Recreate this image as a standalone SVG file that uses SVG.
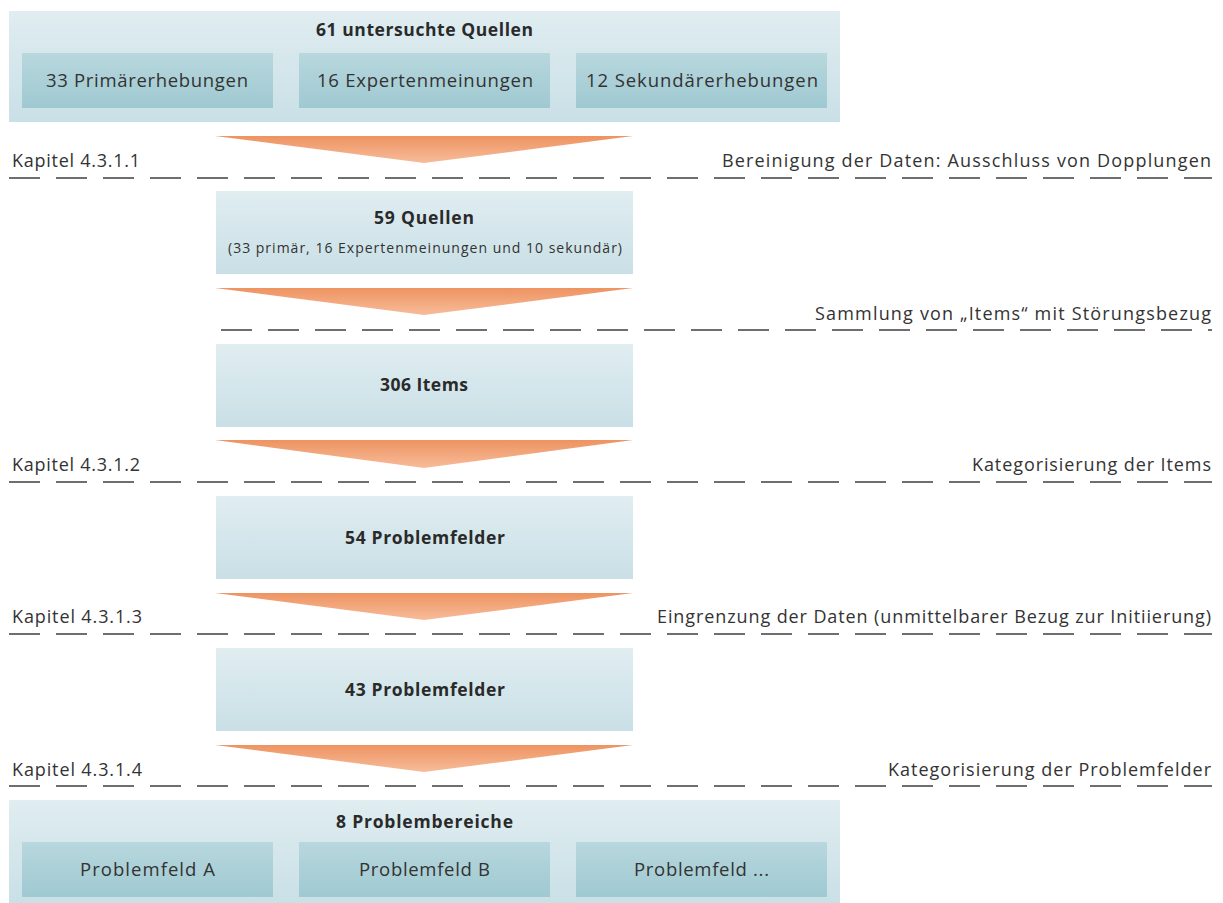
<svg xmlns="http://www.w3.org/2000/svg" width="1223" height="903" viewBox="0 0 1223 903">
  <defs>
    <linearGradient id="gLight" x1="0" y1="0" x2="0" y2="1">
      <stop offset="0" stop-color="#e0edf1"/>
      <stop offset="1" stop-color="#c9e0e6"/>
    </linearGradient>
    <linearGradient id="gSub" x1="0" y1="0" x2="0" y2="1">
      <stop offset="0" stop-color="#b8d7de"/>
      <stop offset="1" stop-color="#9fc9d1"/>
    </linearGradient>
    <linearGradient id="gArrow" x1="0" y1="0" x2="0" y2="1">
      <stop offset="0" stop-color="#ee9361"/>
      <stop offset="1" stop-color="#f7bc9a"/>
    </linearGradient>
  </defs>
  <style>
    text { font-family: "Open Sans", "Liberation Sans", sans-serif; fill: #2a2a2a; }
    .title { font-size: 17.5px; font-weight: bold; text-anchor: middle; }
    .sub { font-size: 18.5px; text-anchor: middle; fill: #333; }
    .small { font-size: 14px; text-anchor: middle; fill: #333; }
    .lbl { font-size: 18px; fill: #333; }
    .right { text-anchor: end; }
    .big { fill: url(#gLight); }
    .inner { fill: url(#gSub); }
    .arrow { fill: url(#gArrow); }
    .dash { stroke: #6e6e6e; stroke-width: 2; stroke-dasharray: 31 16; fill: none; }
  </style>

  <!-- source node -->
  <g id="n-sources">
    <rect class="big" x="9" y="11" width="831" height="111"/>
    <text class="title" x="424.5" y="36" textLength="217" lengthAdjust="spacing">61 untersuchte Quellen</text>
    <rect class="inner" x="22" y="53" width="251" height="55"/>
    <text class="sub" x="147" y="87" textLength="202" lengthAdjust="spacing">33 Primärerhebungen</text>
    <rect class="inner" x="299" y="53" width="251" height="55"/>
    <text class="sub" x="425" y="87" textLength="216" lengthAdjust="spacing">16 Expertenmeinungen</text>
    <rect class="inner" x="576" y="53" width="251" height="55"/>
    <text class="sub" x="702" y="87" textLength="232" lengthAdjust="spacing">12 Sekundärerhebungen</text>
  </g>

  <g id="n-59">
    <rect class="big" x="216" y="191" width="417" height="83"/>
    <text class="title" x="424" y="224" textLength="100" lengthAdjust="spacing">59 Quellen</text>
    <text class="small" x="425" y="253" textLength="394" lengthAdjust="spacing">(33 primär, 16 Expertenmeinungen und 10 sekundär)</text>
  </g>

  <g id="n-306">
    <rect class="big" x="216" y="344" width="417" height="83"/>
    <text class="title" x="424" y="391" textLength="88" lengthAdjust="spacing">306 Items</text>
  </g>

  <g id="n-54">
    <rect class="big" x="216" y="496" width="417" height="83"/>
    <text class="title" x="425" y="544" textLength="160" lengthAdjust="spacing">54 Problemfelder</text>
  </g>

  <g id="n-43">
    <rect class="big" x="216" y="648" width="417" height="83"/>
    <text class="title" x="425" y="696" textLength="160" lengthAdjust="spacing">43 Problemfelder</text>
  </g>

  <g id="n-areas">
    <rect class="big" x="9" y="800" width="831" height="103"/>
    <text class="title" x="424.5" y="828" textLength="177" lengthAdjust="spacing">8 Problembereiche</text>
    <rect class="inner" x="22" y="842" width="251" height="55"/>
    <text class="sub" x="147.5" y="876" textLength="135" lengthAdjust="spacing">Problemfeld A</text>
    <rect class="inner" x="299" y="842" width="251" height="55"/>
    <text class="sub" x="424.5" y="876" textLength="131" lengthAdjust="spacing">Problemfeld B</text>
    <rect class="inner" x="576" y="842" width="251" height="55"/>
    <text class="sub" x="701.5" y="876" textLength="135" lengthAdjust="spacing">Problemfeld ...</text>
  </g>

  <!-- flow arrows and step separators -->
  <g id="connectors">
    <polygon class="arrow" points="215,136 633,136 424,163"/>
    <polygon class="arrow" points="215,288 633,288 424,315"/>
    <polygon class="arrow" points="215,440 633,440 424,468"/>
    <polygon class="arrow" points="215,593 633,593 424,620"/>
    <polygon class="arrow" points="215,745 633,745 424,772"/>

    <line class="dash" x1="9" y1="178" x2="1212" y2="178"/>
    <line class="dash" x1="221" y1="330" x2="1212" y2="330"/>
    <line class="dash" x1="9" y1="482" x2="1212" y2="482"/>
    <line class="dash" x1="9" y1="634" x2="1212" y2="634"/>
    <line class="dash" x1="9" y1="786" x2="1212" y2="786"/>
  </g>

  <g id="labels">
    <text class="lbl" x="12" y="167" textLength="128" lengthAdjust="spacing">Kapitel 4.3.1.1</text>
    <text class="lbl right" x="1211" y="167" textLength="489" lengthAdjust="spacing">Bereinigung der Daten: Ausschluss von Dopplungen</text>
    <text class="lbl right" x="1211" y="320" textLength="396" lengthAdjust="spacing">Sammlung von „Items“ mit Störungsbezug</text>
    <text class="lbl" x="12" y="471" textLength="128" lengthAdjust="spacing">Kapitel 4.3.1.2</text>
    <text class="lbl right" x="1211" y="471" textLength="239" lengthAdjust="spacing">Kategorisierung der Items</text>
    <text class="lbl" x="12" y="623" textLength="130" lengthAdjust="spacing">Kapitel 4.3.1.3</text>
    <text class="lbl right" x="1211" y="623" textLength="554" lengthAdjust="spacing">Eingrenzung der Daten (unmittelbarer Bezug zur Initiierung)</text>
    <text class="lbl" x="12" y="776" textLength="130" lengthAdjust="spacing">Kapitel 4.3.1.4</text>
    <text class="lbl right" x="1211" y="776" textLength="323" lengthAdjust="spacing">Kategorisierung der Problemfelder</text>
  </g>
</svg>
